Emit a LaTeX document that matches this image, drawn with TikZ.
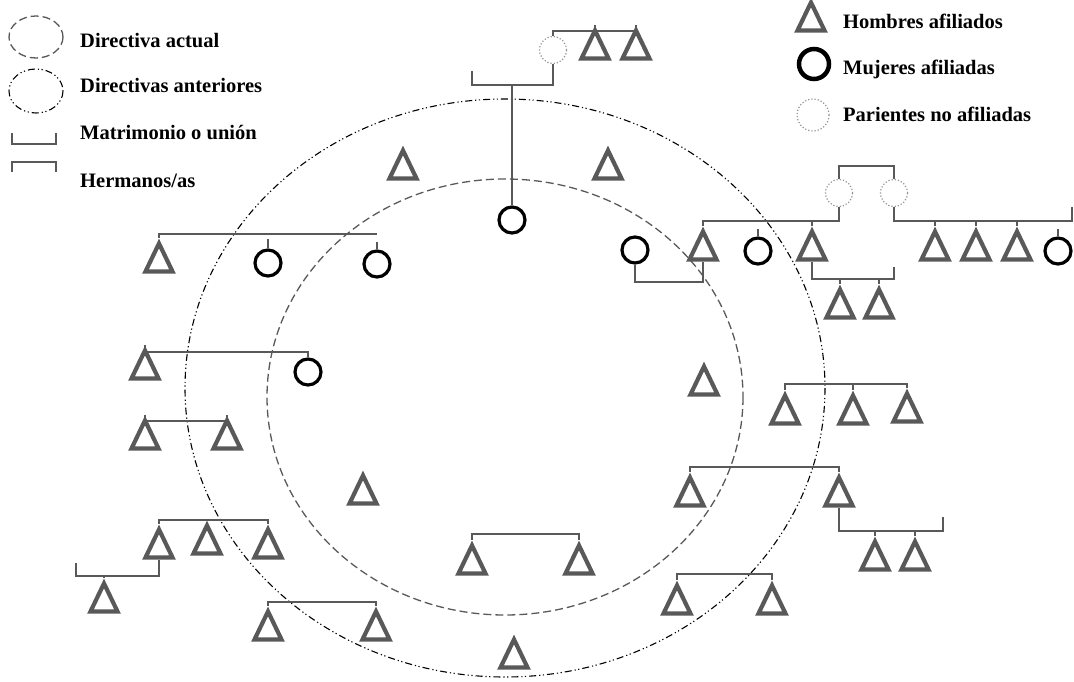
\documentclass[tikz,border=0pt]{standalone}
\usepackage{fontspec}
\setmainfont{Liberation Serif}
\usetikzlibrary{shapes.geometric}
\definecolor{gris}{HTML}{595959}

\begin{document}
\begin{tikzpicture}[x=1pt,y=-1pt,
  hombre/.style={isosceles triangle,isosceles triangle stretches,shape border rotate=90,
    draw=gris,line width=4.2pt,inner sep=0pt,minimum width=27pt,minimum height=28pt},
  mujer/.style={circle,draw=black,line width=3.2pt,inner sep=0pt,minimum size=26pt},
  pariente/.style={circle,draw=gray!85,dotted,line width=1.2pt,inner sep=0pt,minimum size=27pt},
  linea/.style={draw=gris,line width=1.3pt},
  actual/.style={draw=gris,line width=1.3pt,dash pattern=on 8pt off 4pt},
  anterior/.style={draw=black,line width=1.1pt,dash pattern=on 7pt off 3pt on 1.2pt off 2.5pt on 1.2pt off 3pt},
  leyenda/.style={anchor=base west,inner sep=0pt,font=\fontsize{20.5}{24}\selectfont\bfseries}]
  \useasboundingbox (0,0) rectangle (1074,682);

  % directivas
  \draw[anterior] (505,388) ellipse [x radius=320, y radius=289];
  \draw[actual] (505,397) ellipse [x radius=238, y radius=218];

  % leyenda
  \draw[actual] (36,37) ellipse [x radius=27, y radius=21];
  \draw[anterior] (36,91) ellipse [x radius=27, y radius=22];
  \draw[linea] (12,133) -- (12,144) -- (56,144) -- (56,133);
  \draw[linea] (12,172) -- (12,162) -- (56,162) -- (56,172);
  \node[leyenda] (t1) at (80,48) {Directiva actual};
  \node[leyenda] (t2) at (80,93) {Directivas anteriores};
  \node[leyenda] (t3) at (80,140) {Matrimonio o unión};
  \node[leyenda] (t4) at (80,187) {Hermanos/as};
  \node[hombre] (lh) at (811,22) {};
  \node[mujer,minimum size=30pt,line width=4.5pt] (lm) at (814,64) {};
  \node[pariente,minimum size=32pt] (lp) at (813,115) {};
  \node[leyenda] (t5) at (843,29) {Hombres afiliados};
  \node[leyenda] (t6) at (843,75) {Mujeres afiliadas};
  \node[leyenda] (t7) at (843,122) {Parientes no afiliadas};

  % familia de arriba
  \node[pariente] (p1) at (553,50) {};
  \node[hombre] (h1) at (595,50) {};
  \node[hombre] (h2) at (636,50) {};
  \node[mujer] (m1) at (512,220) {};
  \coordinate (u1) at (472,71);
  \draw[linea] (p1.north) -- (p1.north |- 0,31) -| (h2.apex);
  \draw[linea] (h1.apex) -- (h1.apex |- 0,31);
  \draw[linea] (p1.south) |- (u1 |- 0,85) -- (u1);
  \draw[linea] (m1.north) -- (m1.north |- 0,85);
  \node[hombre] (h3) at (403,170) {};
  \node[hombre] (h4) at (608,170) {};

  % izquierda
  \node[hombre] (h5) at (159,263) {};
  \node[mujer] (m2) at (268,263) {};
  \node[mujer] (m3) at (377,264) {};
  \draw[linea] (h5.apex) |- (m3.north |- 0,234);
  \draw[linea] (m2.north) -- ++(0,-9);
  \draw[linea] (m3.north) -- ++(0,-7);
  \node[hombre] (h6) at (145,370) {};
  \node[mujer] (m4) at (308,372) {};
  \draw[linea] (h6.apex) -- (h6.apex |- 0,352) -| (m4.north);
  \node[hombre] (h7) at (145,440) {};
  \node[hombre] (h8) at (227,440) {};
  \draw[linea] (h7.apex) -- (h7.apex |- 0,421) -| (h8.apex);
  \node[hombre] (h9) at (159,549) {};
  \node[hombre] (h10) at (207,545) {};
  \node[hombre] (h11) at (268,549) {};
  \node[hombre] (h12) at (104,603) {};
  \coordinate (u2) at (76,563);
  \draw[linea] (h9.apex) -- (h9.apex |- 0,520) -| (h11.apex);
  \draw[linea] (h10.apex) -- (h10.apex |- 0,520);
  \draw[linea] (h9.south) |- (u2 |- 0,576) -- (u2);
  \draw[linea] (h12.apex) -- (h12.apex |- 0,576);
  \node[hombre] (h13) at (268,631) {};
  \node[hombre] (h14) at (376,631) {};
  \draw[linea] (h13.apex) -- (h13.apex |- 0,602) -| (h14.apex);
  \node[hombre] (h15) at (363,495) {};

  % abajo
  \node[hombre] (h16) at (472,565) {};
  \node[hombre] (h17) at (579,565) {};
  \draw[linea] (h16.apex) -- (h16.apex |- 0,534) -| (h17.apex);
  \node[hombre] (h18) at (514,659) {};

  % derecha abajo
  \node[hombre] (h19) at (704,386) {};
  \node[hombre] (h20) at (785,415) {};
  \node[hombre] (h21) at (853,415) {};
  \node[hombre] (h22) at (907,413) {};
  \draw[linea] (h20.apex) -- (h20.apex |- 0,384) -| (h22.apex);
  \draw[linea] (h21.apex) -- (h21.apex |- 0,384);
  \node[hombre] (h23) at (690,497) {};
  \node[hombre] (h24) at (839,497) {};
  \draw[linea] (h23.apex) -- (h23.apex |- 0,467) -| (h24.apex);
  \node[hombre] (h25) at (875,561) {};
  \node[hombre] (h26) at (915,561) {};
  \coordinate (u3) at (943,517);
  \draw[linea] (h24.south) |- (u3 |- 0,531) -- (u3);
  \draw[linea] (h25.apex) -- (h25.apex |- 0,531);
  \draw[linea] (h26.apex) -- (h26.apex |- 0,531);
  \node[hombre] (h27) at (677,605) {};
  \node[hombre] (h28) at (772,605) {};
  \draw[linea] (h27.apex) -- (h27.apex |- 0,574) -| (h28.apex);

  % derecha arriba
  \node[mujer] (m5) at (635,250) {};
  \node[hombre] (h29) at (703,251) {};
  \node[mujer] (m6) at (758,251) {};
  \node[hombre] (h30) at (812,251) {};
  \node[pariente] (p2) at (839,193) {};
  \node[pariente] (p3) at (894,193) {};
  \node[hombre] (h31) at (935,251) {};
  \node[hombre] (h32) at (976,251) {};
  \node[hombre] (h33) at (1017,251) {};
  \node[mujer] (m7) at (1058,251) {};
  \coordinate (u4) at (1072,207);
  \draw[linea] (m5.south) |- (h29.south |- 0,282) -- (h29.south);
  \draw[linea] (m6.north) -- ++(0,-7);
  \draw[linea] (m7.north) -- ++(0,-7);
  \draw[linea] (p2.north) -- (p2.north |- 0,166) -| (p3.north);
  \draw[linea] (p2.south) |- (h29.apex |- 0,221) -- (h29.apex);
  \draw[linea] (h30.apex) -- (h30.apex |- 0,221);
  \draw[linea] (p3.south) |- (u4 |- 0,221) -- (u4);
  \draw[linea] (h31.apex) -- (h31.apex |- 0,221);
  \draw[linea] (h32.apex) -- (h32.apex |- 0,221);
  \draw[linea] (h33.apex) -- (h33.apex |- 0,221);
  \node[hombre] (h34) at (840,309) {};
  \node[hombre] (h35) at (879,309) {};
  \coordinate (u5) at (894,267);
  \draw[linea] (h30.south) |- (u5 |- 0,279) -- (u5);
  \draw[linea] (h34.apex) -- (h34.apex |- 0,279);
  \draw[linea] (h35.apex) -- (h35.apex |- 0,279);
\end{tikzpicture}
\end{document}
